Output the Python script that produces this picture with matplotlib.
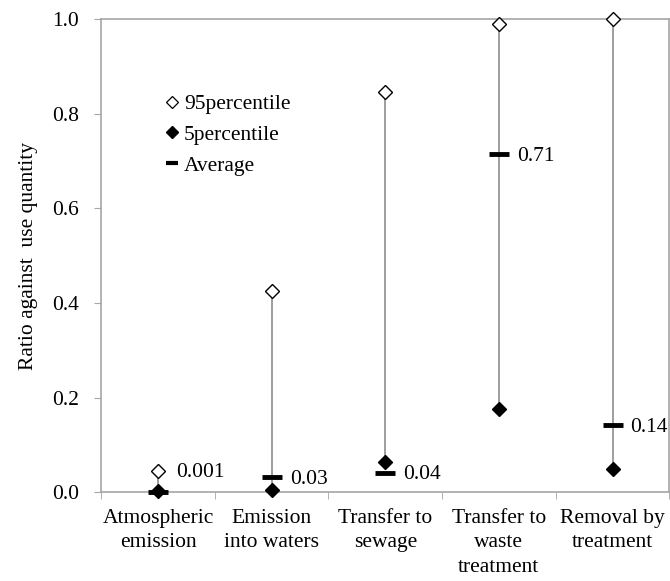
import numpy as np
import matplotlib.pyplot as plt
from matplotlib.lines import Line2D

# DADOS
categorias = ["Atmospheric\nemission", "Emission\ninto waters", "Transfer to\nsewage",
              "Transfer to\nwaste\ntreatment", "Removal by\ntreatment"]
p95 = [0.045, 0.425, 0.845, 0.99, 1.0]
p5 = [0.002, 0.004, 0.063, 0.175, 0.049]
media = [0.001, 0.032, 0.041, 0.715, 0.141]
rotulos_media = ["0.001", "0.03", "0.04", "0.71", "0.14"]

plt.rcParams['font.family'] = ['Liberation Serif', 'DejaVu Serif']
cinza = "#a6a6a6"
fs = 15.5

fig = plt.figure(figsize=(6.7, 5.81), dpi=100)
ax = fig.add_axes([0.151, 0.153, 0.848, 0.814])

x = np.arange(1, len(categorias) + 1)

# linhas entre 5 e 95 percentil
ax.vlines(x, p5, p95, color="#8c8c8c", linewidth=1.2, zorder=1)

ax.plot(x, p95, linestyle="none", marker="D", markersize=7.5, markerfacecolor="white",
        markeredgecolor="black", markeredgewidth=1.0, zorder=3, clip_on=False)
ax.plot(x, p5, linestyle="none", marker="D", markersize=7.5, color="black", zorder=3,
        clip_on=False)
ax.plot(x, media, linestyle="none", marker="_", markersize=14.5, markeredgewidth=3.5,
        color="black", zorder=4, clip_on=False)

# deslocamento vertical dos rótulos (em pontos), como no original
desloc_y = [14, -1.5, -1.5, -1.5, -1.5]
for xi, yi, txt, dy in zip(x, media, rotulos_media, desloc_y):
    ax.annotate(txt, (xi, yi), xytext=(13, dy), textcoords="offset points",
                ha="left", va="center", fontsize=fs)

ax.set_xlim(0.5, 5.5)
ax.set_ylim(0, 1.0)
ax.set_yticks([0.0, 0.2, 0.4, 0.6, 0.8, 1.0])
ax.set_yticklabels(["0.0", "0.2", "0.4", "0.6", "0.8", "1.0"], fontsize=fs)
ax.set_xticks(x)
ax.set_xticklabels(categorias, fontsize=fs, linespacing=1.4)
ax.set_xticks(np.arange(0.5, 6.0, 1.0), minor=True)
ax.tick_params(axis="x", which="major", length=0, pad=12)
ax.tick_params(axis="x", which="minor", length=5, color=cinza, direction="out")
ax.tick_params(axis="y", length=5, color=cinza, direction="out", pad=11)
ax.set_ylabel("Ratio against  use quantity", fontsize=fs, labelpad=10)

for s in ax.spines.values():
    s.set_color(cinza)
    s.set_linewidth(1.2)

handles = [
    Line2D([], [], linestyle="none", marker="D", markersize=6, markerfacecolor="white",
           markeredgecolor="black", markeredgewidth=0.9),
    Line2D([], [], linestyle="none", marker="D", markersize=6, color="black"),
    Line2D([], [], linestyle="none", marker="_", markersize=8, markeredgewidth=3, color="black"),
]
ax.legend(handles, ["95percentile", "5percentile", "Average"], loc="upper left",
          bbox_to_anchor=(0.098, 0.86), frameon=False, fontsize=fs, handlelength=0.6,
          handletextpad=0.25, labelspacing=0.5, borderaxespad=0)

plt.savefig("out.png", dpi=100)
